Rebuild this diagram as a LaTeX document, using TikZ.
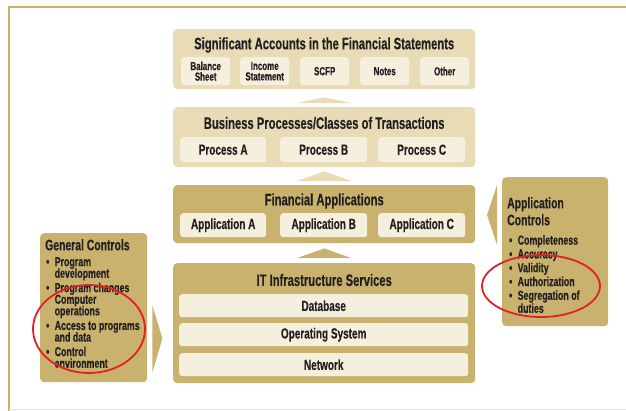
\documentclass[tikz,border=0pt]{standalone}
\usepackage{fontspec}
\setmainfont{Liberation Sans}[FakeStretch = 0.68, BoldFeatures = {FakeBold = 0.3}]
\usetikzlibrary{calc}

\definecolor{gold}{RGB}{200,178,110}
\definecolor{sand}{RGB}{232,219,182}
\definecolor{cream}{RGB}{245,239,222}
\definecolor{ink}{RGB}{35,31,32}
\definecolor{pen}{RGB}{226,32,38}

\newcommand{\boxtitle}{\fontsize{16.5}{18}\selectfont\bfseries}
\newcommand{\boxcell}{\fontsize{14.7}{16}\selectfont\bfseries}
\newcommand{\boxsmall}{\fontsize{11.7}{10.5}\selectfont\bfseries\lineskiplimit=-20pt\relax}
\newcommand{\ctrlhead}{\fontsize{15.3}{17}\selectfont\bfseries}
\newcommand{\ctrlitem}[1]{\fontsize{13}{#1}\selectfont\bfseries\lineskiplimit=-20pt\relax}
\newcommand{\bul}{\makebox[8.5pt][l]{\textbullet}}
\newcommand{\ind}{\hspace*{8.5pt}}

\begin{document}
\begin{tikzpicture}[x = 1pt, y = -1pt, text = ink,
	panel/.style = {rounded corners = 4pt, anchor = north west, inner sep = 0pt},
	cell/.style = {fill = cream, rounded corners = 3pt, anchor = north west, inner sep = 0pt, align = center},
	list/.style = {anchor = north west, inner sep = 0pt, align = left}]

	% Definitions
	
	\def\bx{173}		% Left edge and width of the middle column
	\def\bw{302}
	
	\useasboundingbox (0, 0) rectangle (626, 410);
	
	% Draw frame
	
	\draw [gold, line width = 2.5pt] (9, 420) -- (9, 7) -- (640, 7);
	\draw [sand!70, line width = 1pt] (9, 409) -- (626, 409);
	
	% Draw middle column
	
	\node [panel, fill = sand, minimum width = \bw pt, minimum height = 60pt] (acc) at (\bx, 29) {};
	\node [panel, fill = sand, minimum width = \bw pt, minimum height = 60pt] (bp) at (\bx, 107) {};
	\node [panel, fill = gold, minimum width = \bw pt, minimum height = 58pt] (fa) at (\bx, 185) {};
	\node [panel, fill = gold, minimum width = \bw pt, minimum height = 120pt] (it) at (\bx, 263) {};
	
	\node [font = \boxtitle] (acct) at ($(acc.north) + (0, 16)$) {Significant Accounts in the Financial Statements};
	\node [font = \boxtitle] (bpt) at ($(bp.north) + (0, 16)$) {Business Processes/Classes of Transactions};
	\node [font = \boxtitle] (fat) at ($(fa.north) + (0, 16)$) {Financial Applications};
	\node [font = \boxtitle] (itt) at ($(it.north) + (0, 17)$) {IT Infrastructure Services};
	
	\foreach \x/\n/\t in {181/bs/{Balance\\Sheet}, 240/is/{Income\\Statement}, 300/scfp/SCFP, 360/notes/Notes, 420/other/Other}
		\node [cell, font = \boxsmall, minimum width = 49pt, minimum height = 28pt] (\n) at (\x, 57) {\t};
	
	\foreach \x/\w/\l in {180/86/A, 280/87/B, 378/87/C}
	{
		\node [cell, font = \boxcell, minimum width = \w pt, minimum height = 25pt] (proc\l) at (\x, 137) {Process \l};
		\node [cell, font = \boxcell, minimum width = \w pt, minimum height = 24pt] (app\l) at (\x, 213) {Application \l};
	}
	
	\foreach \y/\n/\t in {294/db/Database, 323/os/Operating System, 353/net/Network}
		\node [cell, font = \boxcell, minimum width = 289pt, minimum height = 23pt] (\n) at (179, \y) {\t};
	
	% Draw arrows between layers
	
	\fill [sand] ($(bp.north) + (-27, -4)$) -- ($(bp.north) + (27, -4)$) -- ($(acc.south) + (0, 8)$) -- cycle;
	\fill [sand] ($(fa.north) + (-27, -4)$) -- ($(fa.north) + (27, -4)$) -- ($(bp.south) + (0, 4)$) -- cycle;
	\fill [gold] ($(it.north) + (-27, -5)$) -- ($(it.north) + (27, -5)$) -- ($(fa.south) + (0, 5)$) -- cycle;
	
	% Draw control boxes
	
	\node [panel, fill = gold, minimum width = 107pt, minimum height = 149pt] (gc) at (40, 233) {};
	\node [panel, fill = gold, minimum width = 106pt, minimum height = 149pt] (ac) at (502, 177) {};
	
	\fill [gold] ($(gc.south east) + (5, -77)$) -- ($(gc.south east) + (15, -44)$) -- ($(gc.south east) + (5, -10)$) -- cycle;
	\fill [gold] ($(ac.north west) + (-5, 8)$) -- ($(ac.north west) + (-15, 38)$) -- ($(ac.north west) + (-5, 68)$) -- cycle;
	
	\node [list, font = \ctrlhead] (gch) at (45, 239) {General Controls};
	\node [list, font = \ctrlitem{11.6}] (gcl) at (46, 257)
	{
		\bul Program\\
		\ind development\\[2.8pt]
		\bul Program changes\\
		\ind Computer\\
		\ind operations\\[3pt]
		\bul Access to programs\\
		\ind and data\\[3pt]
		\bul Control\\
		\ind environment
	};
	
	\node [list, font = \ctrlhead] (ach) at (507, 197) {Application\\Controls};
	\node [list, font = \ctrlitem{13.8}] (acl) at (509, 235)
	{
		\bul Completeness\\
		\bul Accuracy\\
		\bul Validity\\
		\bul Authorization\\
		\bul Segregation of\\[-0.8pt]
		\ind duties
	};
	
	% Draw red marks
	
	\draw [pen, line width = 1.8pt] (89, 329) ellipse (56 and 44);
	\draw [pen, line width = 1.8pt] (541, 286) ellipse (59 and 31);
	
\end{tikzpicture}
\end{document}
